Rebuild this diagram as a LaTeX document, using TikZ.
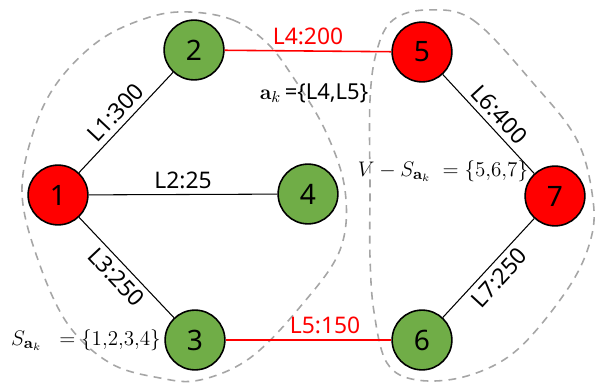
\documentclass[tikz,border=0pt]{standalone}
\usepackage{amsmath}
\usepackage[no-math]{fontspec}
\setmainfont{Noto Sans}
\definecolor{nodegreen}{RGB}{112,173,71}
\definecolor{cutred}{RGB}{255,0,0}
\definecolor{blobgray}{RGB}{166,166,166}
\usetikzlibrary{positioning}

\begin{document}
\begin{tikzpicture}[x=0.02cm,y=0.02cm,
    vtx/.style={circle,draw=black,line width=0.9pt,minimum size=34pt,inner sep=0pt,font=\fontsize{16}{18}\selectfont},
    gvtx/.style={vtx,fill=nodegreen},
    rvtx/.style={vtx,fill=cutred},
    link/.style={black,line width=0.6pt},
    cutlink/.style={cutred,line width=0.9pt},
    lbl/.style={font=\fontsize{13}{15}\selectfont,inner sep=3pt},
    setlbl/.style={font=\fontsize{12.5}{14}\selectfont},
    blob/.style={blobgray,line width=0.9pt,dash pattern=on 4.5pt off 3.5pt}]
        \useasboundingbox (0,0) rectangle (601,382);
        \draw[blob] plot[smooth cycle,tension=0.6] coordinates {(190,370) (233,362) (267,339) (293,305) (325,252) (345,192) (340,132) (300,75) (250,24) (200,2) (160,4) (110,19) (67,59) (37,125) (22,189) (33,249) (57,299) (100,342) (150,365)};
        \draw[blob] plot[smooth cycle,tension=0.6] coordinates {(427,372) (473,362) (533,299) (577,242) (593,182) (590,140) (567,92) (517,32) (467,6) (417,2) (387,19) (374,70) (370,125) (370,192) (370,282) (377,332) (393,362)};
        \node[rvtx] (n1) at (58,187) {1};
        \node[gvtx] (n2) at (194,332) {2};
        \node[gvtx] (n3) at (195,42) {3};
        \node[gvtx] (n4) at (308,188) {4};
        \node[rvtx] (n5) at (422,330) {5};
        \node[gvtx] (n6) at (422,42) {6};
        \node[rvtx] (n7) at (555,186) {7};
        \draw[link] (n1) -- node[lbl,sloped,above] {L1:300} (n2);
        \draw[link] (n1) -- node[lbl,above] {L2:25} (n4);
        \draw[link] (n1) -- node[lbl,sloped,below] {L3:250} (n3);
        \draw[link] (n5) -- node[lbl,sloped,above] {L6:400} (n7);
        \draw[link] (n6) -- node[lbl,sloped,below] {L7:250} (n7);
        \draw[cutlink] (n2) -- node[lbl,above,cutred] {L4:200} (n5);
        \draw[cutlink] (n3) -- node[lbl,above,cutred,pos=0.6] {L5:150} (n6);
        \node[setlbl] (ak) at (314,289) {$\mathbf{a}_k$\,=\{L4,L5\}};
        \node[setlbl] (rest) at (443,211) {$V-S_{\mathbf{a}_k}\ =\{5{,}6{,}7\}$};
        \node[setlbl] (sak) at (86,42) {$S_{\mathbf{a}_k}\ \ =\{1{,}2{,}3{,}4\}$};
      \end{tikzpicture}
\end{document}
